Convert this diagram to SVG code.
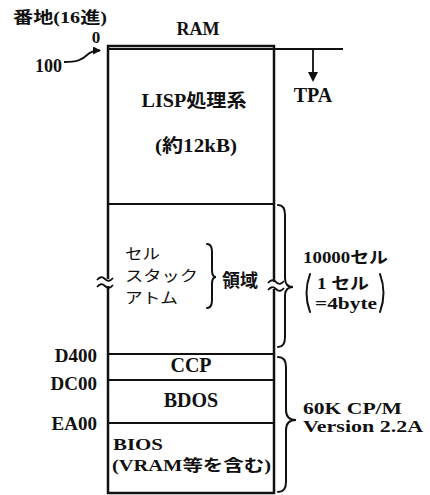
<svg xmlns="http://www.w3.org/2000/svg" width="430" height="495" viewBox="0 0 430 495">
<style>
.t{font-family:"Liberation Serif","Noto Sans CJK JP",serif;font-weight:bold;fill:#111}
.j{font-family:"Noto Sans CJK JP","Liberation Serif",sans-serif;fill:#111}
.ln{stroke:#111;fill:none}
.box{stroke-width:2.5}
.div{stroke-width:2}
.br{stroke-width:2;stroke-linecap:round}
</style>
<defs>
<marker id="ah" markerWidth="8" markerHeight="8" refX="7" refY="4" orient="auto" markerUnits="userSpaceOnUse">
<path d="M0,0 L8,4 L0,8 z" fill="#111"/>
</marker>
</defs>
<rect width="430" height="495" fill="#fff"/>

<g id="labels-top">
<text class="t" x="13" y="23" font-size="16" textLength="94" lengthAdjust="spacingAndGlyphs">番地(16進)</text>
<text class="t" x="96" y="43" font-size="17" text-anchor="middle">0</text>
<text class="t" x="35" y="72" font-size="18" textLength="27" lengthAdjust="spacingAndGlyphs">100</text>
<text class="t" x="198" y="35" font-size="18" text-anchor="middle">RAM</text>
<text class="t" x="313" y="102" font-size="20" text-anchor="middle">TPA</text>
</g>

<g id="memory-box">
<rect x="108" y="46" width="166" height="447" class="ln box"/>
</g>

<g id="lisp">
<text class="t" x="194" y="107" font-size="18" text-anchor="middle" textLength="105" lengthAdjust="spacingAndGlyphs">LISP処理系</text>
<text class="t" x="196" y="152" font-size="18" text-anchor="middle" textLength="82" lengthAdjust="spacingAndGlyphs">(約12kB)</text>
</g>

<g id="cell-area">
<text class="j" x="125" y="259" font-size="15" textLength="35" lengthAdjust="spacingAndGlyphs">セル</text>
<text class="j" x="125" y="281" font-size="15" textLength="73" lengthAdjust="spacingAndGlyphs">スタック</text>
<text class="j" x="125" y="303" font-size="15" textLength="53" lengthAdjust="spacingAndGlyphs">アトム</text>
<path class="ln br" d="M207 244 Q212 244 212 252 L212 270 Q212 277 216 277 Q212 277 212 284 L212 300 Q212 308 207 308"/>
<text class="j" x="222" y="287" font-size="18" font-weight="bold">領域</text>
</g>

<g id="ccp"><text class="t" x="191" y="372" font-size="20" text-anchor="middle">CCP</text></g>
<g id="bdos"><text class="t" x="191" y="407" font-size="20" text-anchor="middle">BDOS</text></g>
<g id="bios">
<text class="t" x="113" y="450" font-size="17" textLength="50" lengthAdjust="spacingAndGlyphs">BIOS</text>
<text class="t" x="112" y="471" font-size="16" textLength="159" lengthAdjust="spacingAndGlyphs">(VRAM等を含む)</text>
</g>

<g id="addresses">
<text class="t" x="97" y="362" font-size="19" text-anchor="end">D400</text>
<text class="t" x="97" y="390" font-size="19" text-anchor="end">DC00</text>
<text class="t" x="97" y="430" font-size="19" text-anchor="end">EA00</text>
</g>

<g id="cells-note">
<text class="t" x="303" y="263" font-size="16" textLength="85" lengthAdjust="spacingAndGlyphs">10000セル</text>
<text class="t" x="317" y="289" font-size="16" textLength="52" lengthAdjust="spacingAndGlyphs">1 セル</text>
<text class="t" x="315" y="309" font-size="16" textLength="62" lengthAdjust="spacingAndGlyphs">=4byte</text>
<path class="ln br" d="M310 274 Q303 293 310 312"/>
<path class="ln br" d="M380 274 Q387 293 380 312"/>
</g>

<g id="cpm-note">
<text class="t" x="303" y="414" font-size="16" textLength="99" lengthAdjust="spacingAndGlyphs">60K CP/M</text>
<text class="t" x="303" y="432" font-size="16" textLength="120" lengthAdjust="spacingAndGlyphs">Version 2.2A</text>
</g>

<g id="connectors">
<line class="ln div" x1="108" y1="49" x2="343" y2="49"/>
<line class="ln div" x1="108" y1="204" x2="274" y2="204"/>
<line class="ln div" x1="108" y1="354" x2="274" y2="354"/>
<line class="ln div" x1="108" y1="380" x2="274" y2="380"/>
<line class="ln div" x1="108" y1="423" x2="274" y2="423"/>
<line class="ln" stroke-width="1.8" x1="313" y1="50" x2="313" y2="74"/>
<path d="M308 72 L318 72 L313 82 z" fill="#111"/>
<path class="ln" stroke-width="1.8" d="M64 62 C77 62 82 60 87 55 C91 51 95 50.5 100 50.5" marker-end="url(#ah)"/>
<rect x="104" y="279" width="8" height="7" fill="#fff"/>
<path class="ln" stroke-width="1.8" d="M97 280 Q101 275 105 279 T113 278"/>
<path class="ln" stroke-width="1.8" d="M97 287 Q101 282 105 286 T113 285"/>
<rect x="270" y="282" width="8" height="7" fill="#fff"/>
<path class="ln" stroke-width="1.8" d="M268 283 Q272 278 276 282 T284 281"/>
<path class="ln" stroke-width="1.8" d="M268 290 Q272 285 276 289 T284 288"/>
<path class="ln br" d="M278 205 Q285 205 285 215 L285 278 Q285 287 293 287 Q285 287 285 296 L285 337 Q285 347 278 347"/>
<path class="ln br" d="M278 357 Q286 357 286 367 L286 410 Q286 420 296 420 Q286 420 286 430 L286 482 Q286 492 278 492"/>
</g>
</svg>
